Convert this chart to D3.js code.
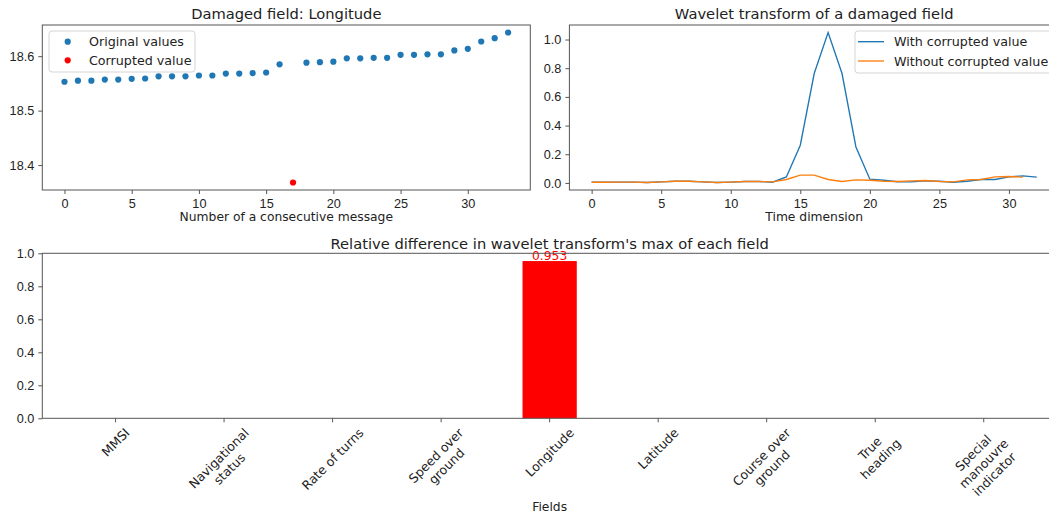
<!DOCTYPE html>
<html>
<head>
<meta charset="utf-8">
<style>
    body { margin: 0; background: #fff; }
    svg { display: block; font-family: 'DejaVu Sans', sans-serif; }
    .tick text { font-size: 12.7px; fill: #222; }
    .tick line { stroke: #555; }
    .title { font-size: 14.7px; fill: #222; text-anchor: middle; }
    .label { font-size: 12.3px; fill: #222; text-anchor: middle; }
    .legend text { font-size: 12.7px; fill: #222; }
</style>
</head>
<body>
<svg width="1049" height="517"></svg>

<script src="https://cdn.jsdelivr.net/npm/d3@7"></script>
<script>
    // --- data ---
    // longitude per consecutive message (index = message number), 17 is the damaged one
    const originalValues = [18.553, 18.555, 18.555, 18.557, 18.557, 18.5585, 18.559, 18.563, 18.563, 18.563,
        18.5645, 18.5645, 18.568, 18.568, 18.569, 18.570, 18.585, null, 18.588, 18.589,
        18.590, 18.596, 18.596, 18.597, 18.597, 18.6025, 18.6025, 18.6035, 18.6035, 18.6105,
        18.6135, 18.627, 18.633, 18.6435]
    const corruptedIndex = 17
    const corruptedValue = 18.368

    // wavelet transform (index = time step)
    const withCorrupted = [0.005, 0.005, 0.006, 0.006, 0.003, 0.007, 0.012, 0.012, 0.007, 0.003,
        0.006, 0.010, 0.010, 0.005, 0.042, 0.263, 0.763, 1.049, 0.763, 0.251,
        0.026, 0.019, 0.008, 0.007, 0.014, 0.012, 0.005, 0.012, 0.024, 0.024,
        0.042, 0.049, 0.040]
    const withoutCorrupted = [0.005, 0.005, 0.006, 0.006, 0.003, 0.007, 0.012, 0.012, 0.007, 0.003,
        0.006, 0.010, 0.010, 0.007, 0.024, 0.054, 0.054, 0.024, 0.010, 0.021,
        0.019, 0.012, 0.010, 0.014, 0.017, 0.010, 0.007, 0.021, 0.024, 0.042,
        0.045, 0.040]

    const fields = ["MMSI", "Navigational\nstatus", "Rate of turns", "Speed over\nground", "Longitude",
        "Latitude", "Course over\nground", "True\nheading", "Special\nmanouvre\nindicator"]
    const relDiff = [0, 0, 0, 0, 0.953, 0, 0, 0, 0]

    const msgTicks = [0, 5, 10, 15, 20, 25, 30]
    const lonTicks = [18.4, 18.5, 18.6]
    const waveTicks = [0, 0.2, 0.4, 0.6, 0.8, 1.0]
    const barTicks = [0, 0.2, 0.4, 0.6, 0.8, 1.0]

    const blue = "#1f77b4", orange = "#ff7f0e"

    let svg = d3.select("svg")

    // matplotlib-like 5% margins
    function padded(lo, hi) {
        let m = (hi - lo) * 0.05
        return [lo - m, hi + m]
    }

    function frame(g, x0, x1, y0, y1) {
        g.append("rect")
            .attr("x", x0).attr("y", y0)
            .attr("width", x1 - x0).attr("height", y1 - y0)
            .style("fill", "none").style("stroke", "#555").style("stroke-width", 1)
    }

    function xAxis(g, scale, y, ticks) {
        let a = g.append("g")
            .attr("transform", `translate(0,${y})`)
            .call(d3.axisBottom(scale).tickValues(ticks).tickSize(4).tickPadding(5).tickFormat(d3.format("d")))
        a.select(".domain").remove()
        return a
    }

    function yAxis(g, scale, x, ticks, fmt) {
        let a = g.append("g")
            .attr("transform", `translate(${x},0)`)
            .call(d3.axisLeft(scale).tickValues(ticks).tickSize(4).tickPadding(4).tickFormat(fmt))
        a.select(".domain").remove()
        return a
    }

    // ---------- panel 1: damaged field ----------
    {
        let L = 42.3, R = 530.3, T = 25, B = 190
        let g = svg.append("g")
        let all = originalValues.filter(v => v != null).concat([corruptedValue])
        let x = d3.scaleLinear().domain(padded(0, originalValues.length - 1)).range([L, R])
        let y = d3.scaleLinear().domain(padded(d3.min(all), d3.max(all))).range([B, T])

        g.selectAll(".orig")
            .data(originalValues.map((v, i) => ({ i, v })).filter(d => d.v != null))
            .join("circle")
            .attr("cx", d => x(d.i)).attr("cy", d => y(d.v)).attr("r", 3.1)
            .style("fill", blue)

        g.append("circle")
            .attr("cx", x(corruptedIndex)).attr("cy", y(corruptedValue)).attr("r", 3.1)
            .style("fill", "red")

        frame(g, L, R, T, B)
        xAxis(g, x, B, msgTicks)
        yAxis(g, y, L, lonTicks, d3.format(".1f"))

        g.append("text").attr("class", "title").attr("x", (L + R) / 2).attr("y", 19)
            .text("Damaged field: Longitude")
        g.append("text").attr("class", "label").attr("x", (L + R) / 2).attr("y", 221)
            .text("Number of a consecutive message")

        let leg = g.append("g").attr("class", "legend")
        leg.append("rect").attr("x", 49).attr("y", 31).attr("width", 146).attr("height", 41).attr("rx", 3)
            .style("fill", "white").style("fill-opacity", 0.8).style("stroke", "#d5d5d5")
        let items = [["Original values", blue], ["Corrupted value", "red"]]
        items.forEach((it, k) => {
            let cy = 41.7 + k * 18.6
            leg.append("circle").attr("cx", 67.7).attr("cy", cy).attr("r", 3.1).style("fill", it[1])
            leg.append("text").attr("x", 89).attr("y", cy).attr("dy", "0.36em").text(it[0])
        })
    }

    // ---------- panel 2: wavelet transform ----------
    {
        let L = 569.4, R = 1059, T = 25, B = 190
        let g = svg.append("g")
        let all = withCorrupted.concat(withoutCorrupted)
        let x = d3.scaleLinear().domain(padded(0, withCorrupted.length - 1)).range([L, R])
        let y = d3.scaleLinear().domain(padded(d3.min(all), d3.max(all))).range([B, T])

        let line = d3.line().x((d, i) => x(i)).y(d => y(d))

        g.append("path").attr("d", line(withCorrupted))
            .style("fill", "none").style("stroke", blue).style("stroke-width", 1.35)
        g.append("path").attr("d", line(withoutCorrupted))
            .style("fill", "none").style("stroke", orange).style("stroke-width", 1.35)

        frame(g, L, R, T, B)
        xAxis(g, x, B, msgTicks)
        yAxis(g, y, L, waveTicks, d3.format(".1f"))

        g.append("text").attr("class", "title").attr("x", (L + R) / 2).attr("y", 19)
            .text("Wavelet transform of a damaged field")
        g.append("text").attr("class", "label").attr("x", (L + R) / 2).attr("y", 221)
            .text("Time dimension")

        let leg = g.append("g").attr("class", "legend")
        leg.append("rect").attr("x", 855).attr("y", 31).attr("width", 198).attr("height", 42).attr("rx", 3)
            .style("fill", "white").style("fill-opacity", 0.8).style("stroke", "#d5d5d5")
        let items = [["With corrupted value", blue], ["Without corrupted value", orange]]
        items.forEach((it, k) => {
            let cy = 41.7 + k * 19.3
            leg.append("line").attr("x1", 858).attr("x2", 884).attr("y1", cy).attr("y2", cy)
                .style("stroke", it[1]).style("stroke-width", 1.35)
            leg.append("text").attr("x", 894).attr("y", cy).attr("dy", "0.36em").text(it[0])
        })
    }

    // ---------- panel 3: relative difference per field ----------
    {
        let L = 42.3, R = 1057, T = 253.3, B = 418.3
        let barW = 0.5
        let g = svg.append("g")
        let x = d3.scaleLinear().domain(padded(-barW / 2, fields.length - 1 + barW / 2)).range([L, R])
        let y = d3.scaleLinear().domain([0, 1]).range([B, T])

        g.selectAll(".bar")
            .data(relDiff.map((v, i) => ({ i, v })))
            .join("rect")
            .attr("x", d => x(d.i - barW / 2))
            .attr("width", d => x(d.i + barW / 2) - x(d.i - barW / 2))
            .attr("y", d => y(d.v))
            .attr("height", d => B - y(d.v))
            .style("fill", "red")

        g.selectAll(".barlabel")
            .data(relDiff.map((v, i) => ({ i, v })).filter(d => d.v > 0))
            .join("text")
            .attr("x", d => x(d.i)).attr("y", d => y(d.v) - 1)
            .attr("text-anchor", "middle")
            .style("font-size", "12.3px").style("fill", "red")
            .text(d => d3.format(".3f")(d.v))

        frame(g, L, R, T, B)
        yAxis(g, y, L, barTicks, d3.format(".1f"))

        // category ticks + rotated, multi-line labels
        let lh = 15, fs = 12.5
        fields.forEach((f, i) => {
            let cx = x(i)
            g.append("line").attr("x1", cx).attr("x2", cx).attr("y1", B).attr("y2", B + 4)
                .style("stroke", "#555")
            let lines = f.split("\n")
            let lab = g.append("g")
            let t = lab.append("text").attr("text-anchor", "middle")
                .style("font-size", fs + "px").style("fill", "#222")
            lines.forEach((s, k) => {
                t.append("tspan").attr("x", 0)
                    .attr("y", (k - (lines.length - 1) / 2) * lh)
                    .attr("dy", "0.36em")
                    .text(s)
            })
            let w = d3.max(t.selectAll("tspan").nodes(), n => n.getComputedTextLength())
            let h = (lines.length - 1) * lh + fs * 1.17
            let side = (w + h) / Math.SQRT2
            lab.attr("transform", `translate(${cx},${B + 7 + side / 2}) rotate(-45)`)
        })

        g.append("text").attr("class", "title").attr("x", (L + R) / 2).attr("y", 249)
            .text("Relative difference in wavelet transform's max of each field")
        g.append("text").attr("class", "label").attr("x", (L + R) / 2).attr("y", 511)
            .text("Fields")
    }
</script>
</body>
</html>
